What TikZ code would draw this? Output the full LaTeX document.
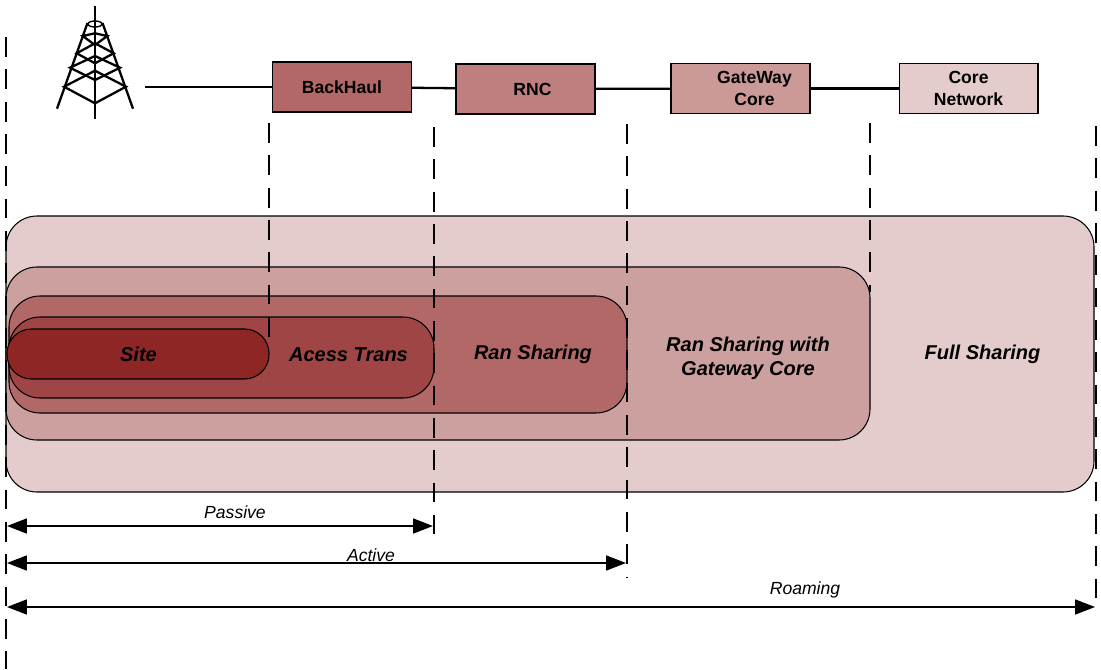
\documentclass[tikz,border=0pt]{standalone}
\usepackage{fontspec}
\setmainfont{Liberation Sans}
\usepackage{tikz}
\usetikzlibrary{arrows.meta}

\definecolor{level1}{HTML}{E4CCCC}
\definecolor{level2}{HTML}{CDA0A0}
\definecolor{level3}{HTML}{B36868}
\definecolor{level4}{HTML}{A04545}
\definecolor{level5}{HTML}{8F2626}
\definecolor{rnc_col}{HTML}{C07F7F}
\definecolor{gate_col}{HTML}{CC9999}

\begin{document}
\begin{tikzpicture}[x=0.02cm, y=-0.02cm,
		box_style/.style={rectangle,draw=black,line width=0.6pt,minimum width=2.78cm,minimum height=1cm,inner sep=0pt,align=center,font=\bfseries\fontsize{10}{12.5}\selectfont},
		pill_style/.style={draw=black,line width=0.6pt,rounded corners=0.62cm},
		name_style/.style={align=center,inner sep=0pt,font=\bfseries\itshape\fontsize{11.4}{13.6}\selectfont},
		range_style/.style={inner sep=0pt,font=\itshape\fontsize{10}{12}\selectfont},
		edge_style/.style={draw=black,line width=1.3pt},
		tower_style/.style={draw=black,line width=1.3pt},
		dash_style/.style={draw=black,line width=1.4pt,dash pattern=on 11.3pt off 7.1pt},
		arrow_style/.style={draw=black,line width=0.9pt,{Triangle[length=11.3pt,width=8.5pt]}-{Triangle[length=11.3pt,width=8.5pt]}}]
		
		\useasboundingbox (0,0) rectangle (1101,669);
		
		% sharing levels
		\draw[pill_style,fill=level1] (6,216) rectangle (1094,492);
		\draw[pill_style,fill=level2] (6,267) rectangle (870,440);
		\draw[pill_style,fill=level3] (9,296) rectangle (627,413);
		\draw[pill_style,fill=level4] (9,317) rectangle (434,398);
		\draw[pill_style,fill=level5,rounded corners=0.49cm] (7,329) rectangle (269,379);
		
		\node[name_style] (site) at (138.5,354.5) {Site};
		\node[name_style] (trans) at (348.5,354.5) {Acess Trans};
		\node[name_style] (ran) at (533,354.5) {Ran Sharing};
		\node[name_style] (rangw) at (748,358) {Ran Sharing with\\Gateway Core};
		\node[name_style] (full) at (982.5,354.5) {Full Sharing};
		
		% tower
		\draw[tower_style] (95,6) -- (95,119);
		\draw[tower_style] (87.5,23) -- (57,108.7);
		\draw[tower_style] (102.5,23) -- (133,108.7);
		\draw[tower_style,line width=0.8pt] (95,24) ellipse (7 and 3);
		\foreach \lx/\rx/\ly/\vy/\ay in {82.7/107.3/36/45/33.3, 76.7/113.7/53.3/63.3/43.3, 70/120/67.7/80/56, 64/126/86.7/103.3/70.7}
			\draw[tower_style] (\lx,\ly) -- (95,\vy) -- (\rx,\ly) -- (95,\ay) -- cycle;
		
		% network chain
		\coordinate (tower) at (145,87);
		\node[box_style,fill=level3] (backhaul) at (342,87) {BackHaul};
		\node[box_style,fill=rnc_col] (rnc) at (525.5,89) {\hspace*{0.28cm}RNC};
		\node[box_style,fill=gate_col] (gateway) at (740.5,88.5) {\hspace*{0.56cm}GateWay\\\hspace*{0.56cm}Core};
		\node[box_style,fill=level1] (core) at (968.5,88.5) {Core\\Network};
		
		\draw[edge_style] (tower) -- (backhaul);
		\draw[edge_style] (backhaul) -- (rnc);
		\draw[edge_style] (rnc) -- (gateway);
		\draw[edge_style] (gateway) -- (core);
		
		% dashed dividers
		\coordinate (d0a) at (6,37);
		\coordinate (d0b) at (6,669);
		\coordinate (d1a) at (269,123);
		\coordinate (d1b) at (269,338);
		\coordinate (d2a) at (434,127);
		\coordinate (d2b) at (434,534);
		\coordinate (d3a) at (627,124);
		\coordinate (d3b) at (627,577);
		\coordinate (d4a) at (870,123);
		\coordinate (d4b) at (870,292);
		\coordinate (d5a) at (1096,126);
		\coordinate (d5b) at (1096,610);
		
		\draw[dash_style] (d0a) -- (d0b);
		\draw[dash_style] (d1a) -- (d1b);
		\draw[dash_style] (d2a) -- (d2b);
		\draw[dash_style] (d3a) -- (d3b);
		\draw[dash_style] (d4a) -- (d4b);
		\draw[dash_style] (d5a) -- (d5b);
		
		% ranges
		\coordinate (pa) at (7,526);
		\coordinate (pb) at (433,526);
		\coordinate (aa) at (7,563);
		\coordinate (ab) at (626,563);
		\coordinate (ra) at (7,607);
		\coordinate (rb) at (1095,607);
		
		\draw[arrow_style] (pa) -- (pb);
		\draw[arrow_style] (aa) -- (ab);
		\draw[arrow_style] (ra) -- (rb);
		
		\node[range_style] (passive) at (235,512) {Passive};
		\node[range_style] (active) at (371,555) {Active};
		\node[range_style] (roaming) at (805,590) {Roaming};
		
		\end{tikzpicture}
\end{document}
